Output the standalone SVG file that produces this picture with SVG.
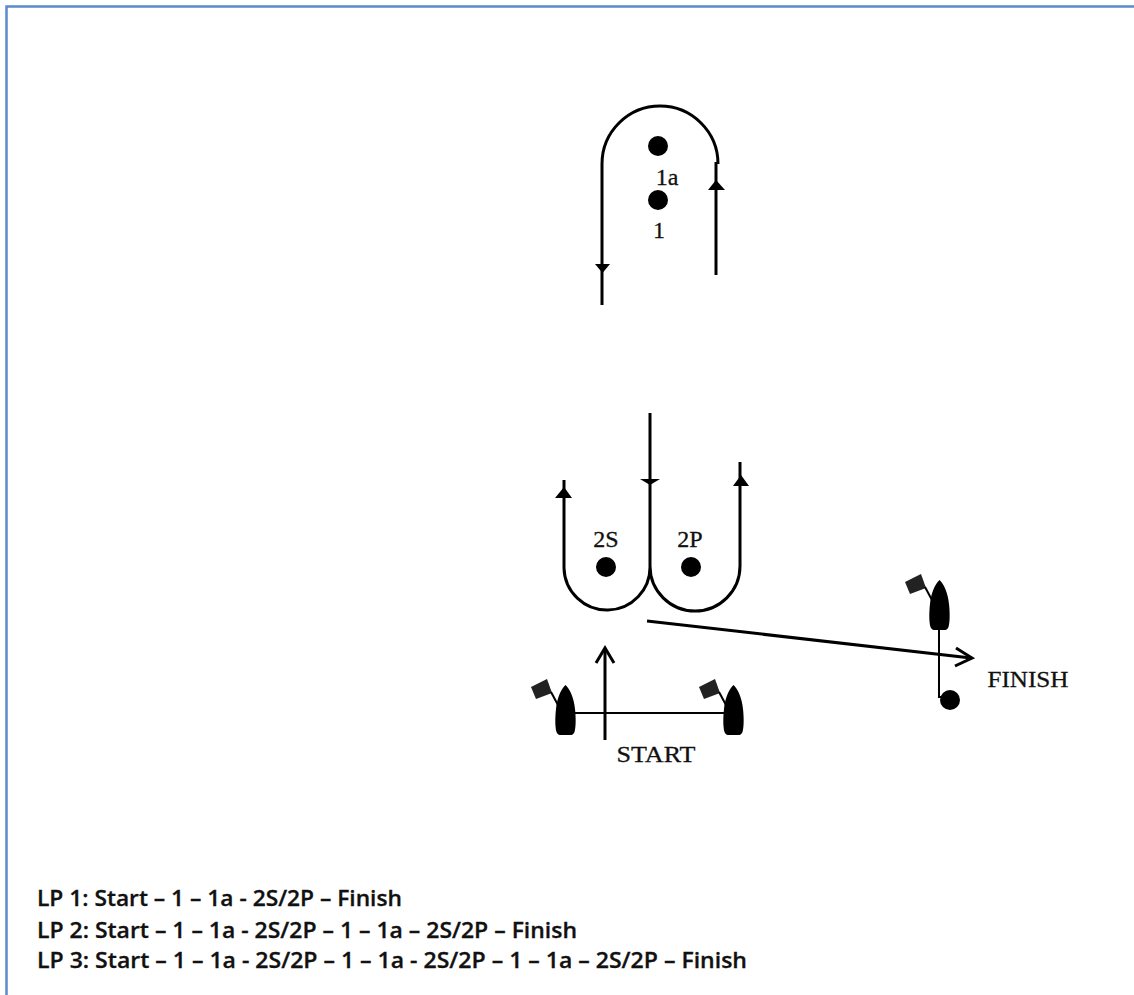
<svg xmlns="http://www.w3.org/2000/svg" width="1134" height="995" viewBox="0 0 1134 995">
<style>
.ln{fill:none;stroke:#000;stroke-width:3}
.thin{fill:none;stroke:#000;stroke-width:2}
.ah{fill:#000}
.dot{fill:#000}
.serif{font-family:"Liberation Serif",serif;font-size:24px;fill:#111;text-anchor:middle;stroke:#111;stroke-width:.3}
.cap{font-family:"Open Sans",sans-serif;font-weight:600;font-size:21px;fill:#111;stroke:#111;stroke-width:.3}
.flag{fill:#222}
</style>
<defs>
<g id="boat">
<path d="M9.500 0C14 4 18 13 19 24C20 33 20 42 18.500 47C17.500 49.500 16 50 14 50H5C3 50 1.500 49.500 .5 47C-1 42 -1 33 0 24C1 13 5 4 9.500 0Z" fill="#000"/>
<path class="flag" d="M-25 2L-9 -6L-4 8L-20 14Z"/>
<path d="M-5 7L2 20" class="thin" stroke-width="3"/>
</g>
</defs>
<rect width="1134" height="995" fill="#fff"/>
<path d="M6.500 995V6.500H1134" fill="none" stroke="#5b8bc8" stroke-width="2.500"/>
<g id="connectors">
<path class="ln" d="M602 305V164A58 58 0 0 1 718 164"/>
<path class="ln" d="M716 275V162"/>
<path class="ah" d="M595 264H610L602.500 273Z"/>
<path class="ah" d="M708 190H725L716 180Z"/>
<path class="ln" d="M650 413V566"/>
<path class="ln" d="M564 480V568A43 43 0 0 0 650 566A45 45 0 0 0 740 566V462"/>
<path class="ah" d="M640 479H660L650 485Z"/>
<path class="ah" d="M555 498H572L564 487Z"/>
<path class="ah" d="M733 486H749L741 475Z"/>
<path class="ln" d="M647 621L971 658"/>
<path class="ln" d="M956 648L972 658L955 666"/>
<path class="ln" d="M605 740V648"/>
<path class="ln" d="M596 663L605 648L614 663"/>
<path class="thin" d="M574 713H726"/>
<path class="thin" d="M939 630V697H948"/>
</g>
<g id="mark-1a"><circle class="dot" cx="658" cy="146" r="10"/><text class="serif" x="667" y="185">1a</text></g>
<g id="mark-1"><circle class="dot" cx="658" cy="200" r="10"/><text class="serif" x="659" y="238">1</text></g>
<g id="mark-2s"><circle class="dot" cx="606" cy="567" r="10"/><text class="serif" x="606" y="547">2S</text></g>
<g id="mark-2p"><circle class="dot" cx="691" cy="567" r="10"/><text class="serif" x="690" y="547">2P</text></g>
<g id="start-boat-left"><use href="#boat" x="556" y="685"/></g>
<g id="start-boat-right"><use href="#boat" x="724" y="685"/></g>
<g id="finish-boat"><use href="#boat" x="930" y="580"/></g>
<g id="finish-mark"><circle class="dot" cx="950" cy="700" r="10"/></g>
<g id="start-label"><text class="serif" x="656" y="762" textLength="79" lengthAdjust="spacingAndGlyphs">START</text></g>
<g id="finish-label"><text class="serif" x="1028" y="687" textLength="81" lengthAdjust="spacingAndGlyphs">FINISH</text></g>
<g id="legend">
<text class="cap" x="37" y="906" textLength="365" lengthAdjust="spacingAndGlyphs">LP 1: Start – 1 – 1a - 2S/2P – Finish</text>
<text class="cap" x="37" y="938" textLength="540" lengthAdjust="spacingAndGlyphs">LP 2: Start – 1 – 1a - 2S/2P – 1 – 1a – 2S/2P – Finish</text>
<text class="cap" x="37" y="968" textLength="710" lengthAdjust="spacingAndGlyphs">LP 3: Start – 1 – 1a - 2S/2P – 1 – 1a - 2S/2P – 1 – 1a – 2S/2P – Finish</text>
</g>
</svg>
